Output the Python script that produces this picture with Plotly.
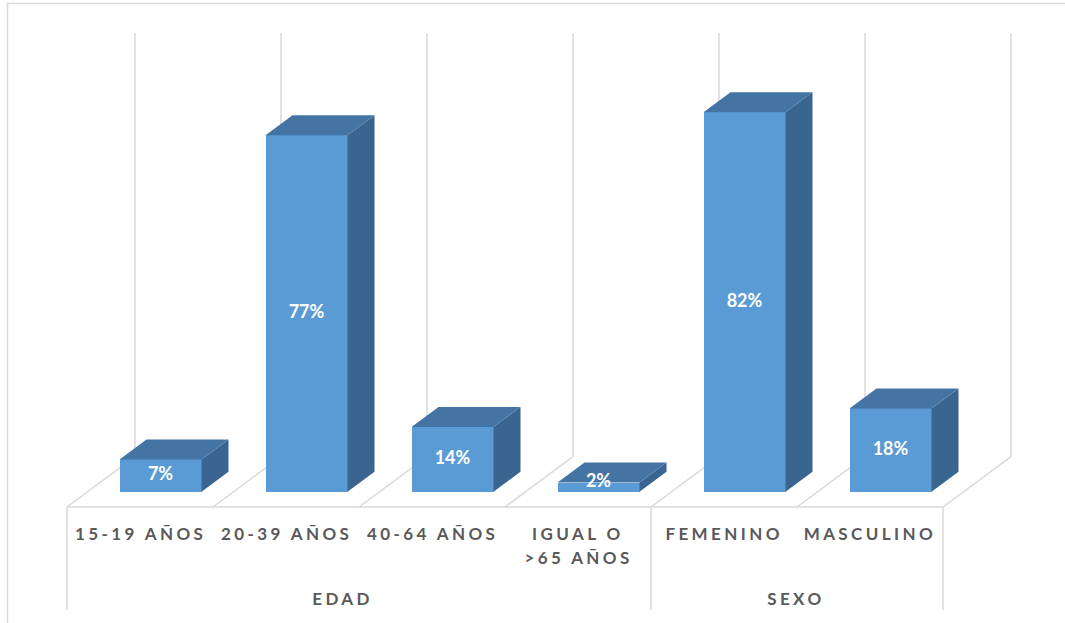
import plotly.graph_objects as go

# ---------------- data ----------------
categories = ["15-19 AÑOS", "20-39 AÑOS", "40-64 AÑOS", "IGUAL O<br>>65 AÑOS", "FEMENINO", "MASCULINO"]
values = [7, 77, 14, 2, 82, 18]
value_labels = ["7%", "77%", "14%", "2%", "82%", "18%"]
groups = ["EDAD", "SEXO"]
group_sizes = [4, 2]

# ---------------- projection / layout constants ----------------
W, H = 1065, 623
CAT_PX = 146.0        # px per category
CAT0_PX = 140.0       # px x of first category centre (front floor edge)
FLOOR_PX = 507.0      # px y of front floor edge
PCT_PX = 4.63         # px per percent
SLOPE = 0.74          # oblique depth: vertical px per horizontal px
FLOOR_DEPTH = 68.0
BAR_FRONT = 20.5
BAR_DEPTH = 27.0
BAR_W_PX = 82.0
WALL_TOP = 91.5
GROUP_LABEL_X = [1.384, 4.49]

FRONT = "#5B9BD5"
TOP = "#4474A4"
SIDE = "#3A6591"
GRID = "#D9D9D9"
TXT = "#595959"
FONT = "Lato"


def dx(px):
    return px / CAT_PX


def dy(px):
    return px * SLOPE / PCT_PX


def ypaper(py):
    return 1 - py / H


n = len(categories)
x_range = [(0 - CAT0_PX) / CAT_PX, (W - CAT0_PX) / CAT_PX]
y_range = [(FLOOR_PX - H) / PCT_PX, FLOOR_PX / PCT_PX]

fig = go.Figure()

# ---------------- floor / wall grid (below bars) ----------------
shapes = []
line = dict(color=GRID, width=1.5)
bounds = [i - 0.5 for i in range(n + 1)]
for b in bounds:
    bx, by = b + dx(FLOOR_DEPTH), dy(FLOOR_DEPTH)
    shapes.append(dict(type="line", xref="x", yref="y", x0=b, y0=0, x1=bx, y1=by, line=line, layer="below"))
    shapes.append(dict(type="line", xref="x", yref="y", x0=bx, y0=by, x1=bx, y1=by + WALL_TOP, line=line, layer="below"))
shapes.append(dict(type="line", xref="x", yref="y", x0=bounds[0], y0=0, x1=bounds[-1], y1=0, line=line, layer="below"))

# multi-level axis dividers
div_bottom = (FLOOR_PX - 610) / PCT_PX
edges = [-0.5]
acc = -0.5
for s in group_sizes:
    acc += s
    edges.append(acc)
for e in edges:
    shapes.append(dict(type="line", xref="x", yref="y", x0=e, y0=0, x1=e, y1=div_bottom, line=line, layer="below"))

# outer chart border
shapes.append(dict(type="rect", xref="paper", yref="paper", x0=7.5 / W, y0=-0.05, x1=1.05, y1=ypaper(3.5),
                   line=dict(color=GRID, width=1.5), layer="below"))

# ---------------- bars ----------------
xc = [i + dx(BAR_FRONT) for i in range(n)]
base = dy(BAR_FRONT)
bw = dx(BAR_W_PX)
fig.add_trace(go.Bar(x=xc, y=values, base=[base] * n, width=bw, marker=dict(color=FRONT, line=dict(width=0)),
                     hoverinfo="skip", showlegend=False))

ddx, ddy = dx(BAR_DEPTH), dy(BAR_DEPTH)
top_x, top_y, side_x, side_y = [], [], [], []
for c, v in zip(xc, values):
    xl, xr = c - bw / 2, c + bw / 2
    yt = base + v
    top_x += [xl, xr, xr + ddx, xl + ddx, xl, None]
    top_y += [yt, yt, yt + ddy, yt + ddy, yt, None]
    side_x += [xr, xr + ddx, xr + ddx, xr, xr, None]
    side_y += [base, base + ddy, yt + ddy, yt, base, None]

fig.add_trace(go.Scatter(x=side_x, y=side_y, mode="lines", fill="toself", fillcolor=SIDE,
                         line=dict(width=0, color=SIDE), hoverinfo="skip", showlegend=False))
fig.add_trace(go.Scatter(x=top_x, y=top_y, mode="lines", fill="toself", fillcolor=TOP,
                         line=dict(width=0, color=TOP), hoverinfo="skip", showlegend=False))

# data labels
fig.add_trace(go.Scatter(x=xc, y=[base + max(v / 2, 2) for v in values], mode="text", text=value_labels,
                         textposition="middle center",
                         textfont=dict(family=FONT, size=18, color="white", weight="bold"),
                         hoverinfo="skip", showlegend=False))

# ---------------- category labels ----------------
annotations = []
for i, lab in enumerate(categories):
    for k, part in enumerate(lab.split("<br>")):
        annotations.append(dict(x=i, xref="x", y=ypaper(533 + 24 * k), yref="paper", text=part,
                                showarrow=False, xanchor="center", yanchor="middle",
                                font=dict(family=FONT, size=17, color=TXT, weight="bold")))
for g, gx in zip(groups, GROUP_LABEL_X):
    annotations.append(dict(x=gx, xref="x", y=ypaper(598), yref="paper", text=g,
                            showarrow=False, xanchor="center", yanchor="middle",
                            font=dict(family=FONT, size=17, color=TXT, weight="bold")))

fig.update_layout(
    width=W, height=H,
    margin=dict(l=0, r=0, t=0, b=0),
    paper_bgcolor="white", plot_bgcolor="white",
    xaxis=dict(range=x_range, visible=False, fixedrange=True),
    yaxis=dict(range=y_range, visible=False, fixedrange=True),
    shapes=shapes, annotations=annotations,
    bargap=0, showlegend=False,
)

post = """
var gd = document.getElementById('{plot_id}');
gd.querySelectorAll('text.annotation-text').forEach(function(t){ t.style.letterSpacing = '3.4px'; });
"""
fig.write_html("out.html", post_script=post, config={"displayModeBar": False})
